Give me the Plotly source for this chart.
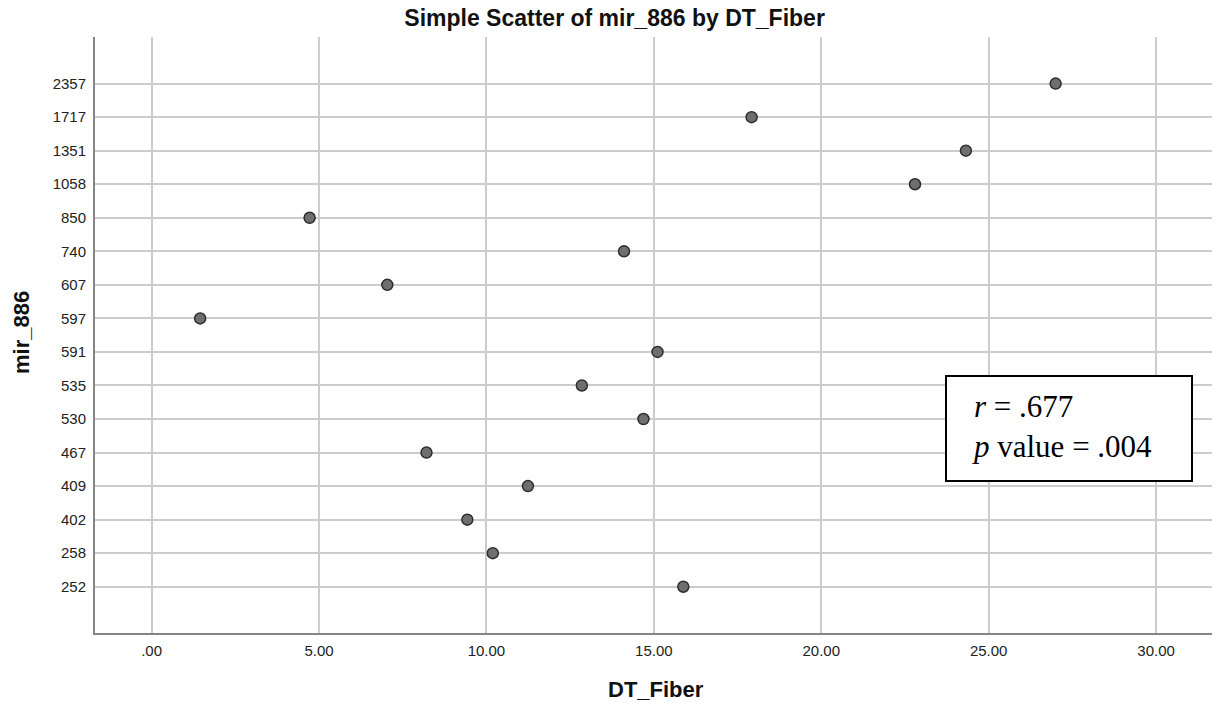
import plotly.graph_objects as go

# ---- data ----
mir_886_categories = ["252", "258", "402", "409", "467", "530", "535", "591",
                      "597", "607", "740", "850", "1058", "1351", "1717", "2357"]
dt_fiber = [15.88, 10.19, 9.43, 11.24, 8.21, 14.69, 12.85, 15.11,
            1.45, 7.04, 14.11, 4.72, 22.80, 24.32, 17.92, 27.00]
x_tick_values = [0, 5, 10, 15, 20, 25, 30]
x_tick_labels = [".00", "5.00", "10.00", "15.00", "20.00", "25.00", "30.00"]

W, H = 1217, 713
L, R, T, B = 95, 5, 37, 80
pw, ph = W - L - R, H - T - B

def px_x(p):
    return (p - L) / pw

def px_y(p):
    return (H - B - p) / ph

SANS = "Liberation Sans, Arial, sans-serif"
SERIF = "Liberation Serif, Times New Roman, serif"

fig = go.Figure()
fig.add_trace(go.Scatter(
    x=dt_fiber, y=mir_886_categories, mode="markers",
    marker=dict(size=11, color="#6f6f6f", line=dict(color="#2e2e2e", width=1.5)),
    showlegend=False, cliponaxis=False,
))

fig.update_layout(
    width=W, height=H,
    margin=dict(l=L, r=R, t=T, b=B),
    paper_bgcolor="white", plot_bgcolor="white",
    title=dict(text="<b>Simple Scatter of mir_886 by DT_Fiber</b>",
               x=0.505, xanchor="center", y=1 - 18 / H, yanchor="middle",
               font=dict(family=SANS, size=23, color="#111")),
    font=dict(family=SANS),
)

fig.update_xaxes(
    range=[-1.69, 31.67], tickvals=x_tick_values, ticktext=x_tick_labels,
    showgrid=True, gridcolor="#cccccc", gridwidth=2, zeroline=False,
    showline=True, linecolor="#858585", linewidth=2, ticks="",
    ticklabelstandoff=3,
    tickfont=dict(family=SANS, size=15, color="#222"),
)
fig.update_yaxes(
    type="category", categoryorder="array", categoryarray=mir_886_categories,
    range=[-1.38, 16.39],
    showgrid=True, gridcolor="#cccccc", gridwidth=2, zeroline=False,
    showline=True, linecolor="#858585", linewidth=2, ticks="",
    ticklabelstandoff=4,
    tickfont=dict(family=SANS, size=15, color="#222"),
)

# axis titles
fig.add_annotation(text="<b>DT_Fiber</b>", xref="paper", yref="paper",
                   x=px_x(656), y=px_y(690), xanchor="center", yanchor="middle",
                   showarrow=False, font=dict(family=SANS, size=22, color="#111"))
fig.add_annotation(text="<b>mir_886</b>", xref="paper", yref="paper",
                   x=px_x(22), y=px_y(333), xanchor="center", yanchor="middle",
                   textangle=-90, showarrow=False,
                   font=dict(family=SANS, size=22, color="#111"))

# stats box
fig.add_shape(type="rect", xref="paper", yref="paper",
              x0=px_x(946), x1=px_x(1192), y0=px_y(481), y1=px_y(376),
              line=dict(color="black", width=2), fillcolor="white", layer="above")
fig.add_annotation(text="<i>r</i> = .677<br><i>p</i> value = .004",
                   xref="paper", yref="paper", x=px_x(970), y=px_y(426),
                   xanchor="left", yanchor="middle", align="left", showarrow=False,
                   font=dict(family=SERIF, size=31, color="black"))

fig.write_html("out.html")
